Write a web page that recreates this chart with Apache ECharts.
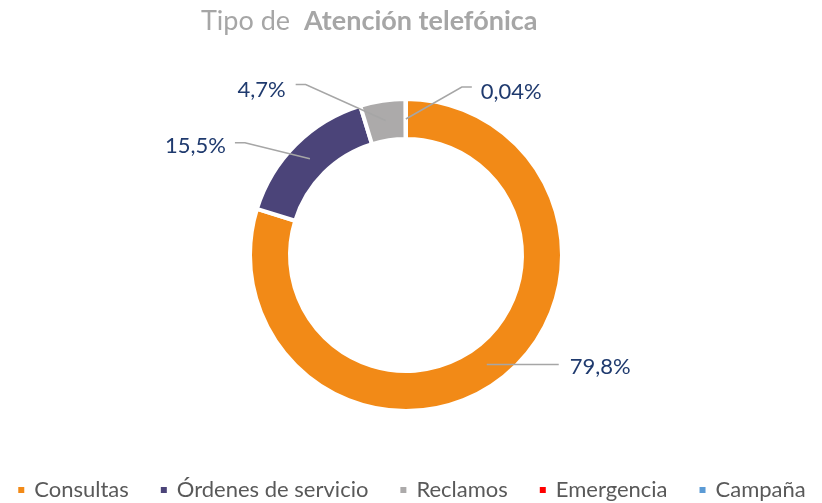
<!DOCTYPE html>
<html>
<head>
<meta charset="utf-8">
<script src="https://cdn.jsdelivr.net/npm/echarts@6/dist/echarts.min.js"></script>
<style>
  html, body { margin: 0; padding: 0; background: #fff; }
  #main { width: 822px; height: 503px; }
</style>
</head>
<body>
<div id="main"></div>
<script>
var categories = ['Consultas', 'Órdenes de servicio', 'Reclamos', 'Emergencia', 'Campaña'];
var values = [79.8, 15.5, 4.7, 0.04, 0];
var colors = ['#F28A17', '#4B4479', '#ACAAAA', '#FF0000', '#5B9BD5'];

var fontName = 'Lato';

// offsets of the leader lines / labels from the anchor point (Excel style)
var labelOffsets = [
    { pts: [[36, 0], [72, 0]], x: 83, y: 2, align: 'left' },
    { pts: [[-65, -16], [-75, -16]], x: -84, y: -13, align: 'right' },
    { pts: [[-80, -36], [-90, -36]], x: -100, y: -31, align: 'right' },
    { pts: [[56, -32], [66, -32]], x: 75, y: -27, align: 'left' },
    null
];

var ringData = categories.map(function (name, i) {
    return { name: name, value: values[i], itemStyle: { color: colors[i] } };
});
var labelData = categories.map(function (name, i) {
    return {
        name: name,
        value: values[i],
        label: { show: values[i] > 0 },
        labelLine: { show: values[i] > 0 }
    };
});

var chart = echarts.init(document.getElementById('main'));
var option = {
    animation: false,
    title: {
        text: '{a|Tipo de  }{b|Atención telefónica}',
        left: 196,
        top: 3,
        textStyle: {
            rich: {
                a: { fontSize: 27, color: '#A6A6A6', fontFamily: fontName, fontWeight: 'normal' },
                b: { fontSize: 27, color: '#A6A6A6', fontFamily: fontName, fontWeight: 'bold' }
            }
        }
    },
    color: colors,
    legend: {
        data: categories,
        bottom: -3,
        left: 'center',
        icon: 'rect',
        itemWidth: 8,
        itemHeight: 8,
        itemGap: 30,
        textStyle: {
            fontSize: 22,
            color: '#595959',
            fontFamily: fontName,
            padding: [0, 0, 0, 4]
        }
    },
    series: [
        {
            type: 'pie',
            radius: [116, 156],
            center: [406, 255],
            startAngle: 90,
            clockwise: true,
            silent: true,
            label: { show: false },
            labelLine: { show: false },
            itemStyle: {
                borderColor: '#fff',
                borderWidth: 4
            },
            data: ringData
        },
        {
            type: 'pie',
            radius: [0, 136],
            center: [406, 255],
            startAngle: 90,
            clockwise: true,
            silent: true,
            z: 5,
            itemStyle: { color: 'rgba(0,0,0,0)' },
            label: {
                show: true,
                position: 'outside',
                fontSize: 22,
                color: '#1F3A6E',
                fontFamily: fontName,
                formatter: function (p) {
                    return String(p.value).replace('.', ',') + '%';
                }
            },
            labelLine: {
                show: true,
                lineStyle: { color: '#A6A6A6', width: 1.5 }
            },
            labelLayout: function (params) {
                var o = labelOffsets[params.dataIndex];
                if (!o || !params.labelLinePoints) return {};
                var s = params.labelLinePoints[0];
                return {
                    x: s[0] + o.x,
                    y: s[1] + o.y,
                    align: o.align,
                    verticalAlign: 'middle',
                    labelLinePoints: [
                        [s[0], s[1]],
                        [s[0] + o.pts[0][0], s[1] + o.pts[0][1]],
                        [s[0] + o.pts[1][0], s[1] + o.pts[1][1]]
                    ]
                };
            },
            data: labelData
        }
    ]
};
chart.setOption(option);
</script>
</body>
</html>
